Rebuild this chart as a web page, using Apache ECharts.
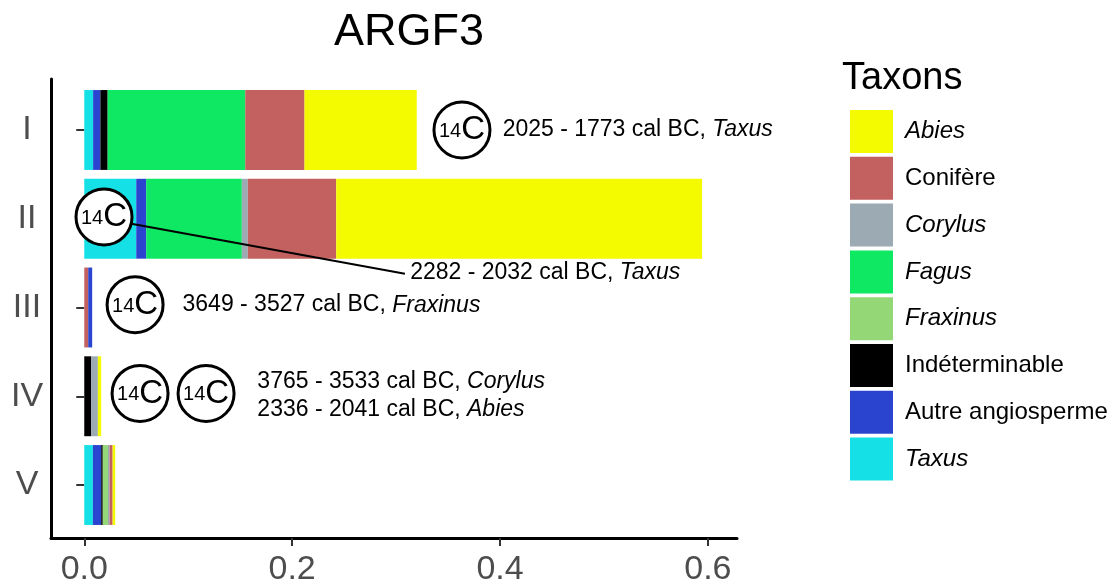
<!DOCTYPE html>
<html>
<head>
<meta charset="utf-8">
<script src="https://cdn.jsdelivr.net/npm/echarts@6/dist/echarts.min.js"></script>
<style>
html,body{margin:0;padding:0;background:#fff;}
#c{width:1115px;height:587px;}
</style>
</head>
<body>
<div id="c"></div>
<script>
// ---- data ----
const rows = ['I', 'II', 'III', 'IV', 'V'];
const taxons = ['Abies', 'Conifère', 'Corylus', 'Fagus', 'Fraxinus', 'Indéterminable', 'Autre angiosperme', 'Taxus'];
const italicTaxa = ['Abies', 'Corylus', 'Fagus', 'Fraxinus', 'Taxus'];
const colors = {
  'Abies': '#f4fb00',
  'Conifère': '#c2615f',
  'Corylus': '#9caab4',
  'Fagus': '#0fe862',
  'Fraxinus': '#93d777',
  'Indéterminable': '#000000',
  'Autre angiosperme': '#2b44cf',
  'Taxus': '#14e0e6'
};
// proportions per row (I..V)
const conifereLeadIII = [0, 0, 0.0038, 0, 0];
const taxus       = [0.0085, 0.050, 0, 0, 0.0083];
const autreAngio  = [0.007, 0.0096, 0.0038, 0, 0.008];
const indeterm    = [0.007, 0, 0, 0.0068, 0.0015];
const fraxinus    = [0, 0, 0, 0, 0.005];
const fagus       = [0.1324, 0.092, 0, 0, 0];
const corylus     = [0, 0.0058, 0, 0.0063, 0.0015];
const conifere    = [0.057, 0.085, 0, 0, 0.003];
const abies       = [0.108, 0.352, 0, 0.0032, 0.0025];
const xTicks = [0, 0.2, 0.4, 0.6];

// 14C annotations (x in proportion units, y in row-index units)
const c14Circles = [[0.3634, 0.0], [0.019, 0.98], [0.0489, 1.97], [0.0537, 2.97], [0.1172, 2.97]];
const annotPos   = [[0.403, 0.0], [0.314, 1.61], [0.095, 1.98], [0.167, 2.84], [0.167, 3.16]];
const annotDates = ['2025 - 1773 cal BC, ', '2282 - 2032 cal BC, ', '3649 - 3527 cal BC, ', '3765 - 3533 cal BC, ', '2336 - 2041 cal BC, '];
const annotTaxa  = ['Taxus', 'Taxus', 'Fraxinus', 'Corylus', 'Abies'];
const leaderLine = [[0.019, 1.0], [0.3085, 1.62]];

const FONT = '"Liberation Sans", Arial, sans-serif';
const XMIN = -0.032, XMAX = 0.628;

const stackOrder = [
  ['Conifère', conifereLeadIII],
  ['Taxus', taxus],
  ['Autre angiosperme', autreAngio],
  ['Indéterminable', indeterm],
  ['Fraxinus', fraxinus],
  ['Fagus', fagus],
  ['Corylus', corylus],
  ['Conifère', conifere],
  ['Abies', abies]
];

const barSeries = stackOrder.map(([name, vals]) => ({
  type: 'bar',
  name: name,
  stack: 'tot',
  xAxisIndex: 1,
  yAxisIndex: 1,
  barWidth: '90%',
  silent: true,
  itemStyle: { color: colors[name] },
  data: vals
}));

const chart = echarts.init(document.getElementById('c'), null, { renderer: 'canvas' });
chart.setOption({
  animation: false,
  backgroundColor: '#fff',
  textStyle: { fontFamily: FONT },
  title: [
    { text: 'ARGF3', left: 404, top: 5, textAlign: 'center',
      textStyle: { fontSize: 45, fontWeight: 'normal', color: '#000', fontFamily: FONT } },
    { text: 'Taxons', left: 837, top: 55,
      textStyle: { fontSize: 38, fontWeight: 'normal', color: '#000', fontFamily: FONT } }
  ],
  legend: {
    data: taxons,
    orient: 'vertical',
    left: 845,
    top: 105,
    itemWidth: 43,
    itemHeight: 43,
    itemGap: 3.8,
    icon: 'rect',
    selectedMode: false,
    formatter: n => italicTaxa.includes(n) ? '{i|' + n + '}' : '{n|' + n + '}',
    textStyle: {
      fontSize: 24, color: '#000', fontFamily: FONT,
      rich: {
        i: { fontSize: 24, fontStyle: 'italic', color: '#000', fontFamily: FONT, padding: [0, 0, 0, 7] },
        n: { fontSize: 24, color: '#000', fontFamily: FONT, padding: [0, 0, 0, 7] }
      }
    }
  },
  grid: [
    { left: 51, right: 378, top: 79, bottom: 49 },
    { left: 51, right: 378, top: 85.6, bottom: 587 - 529.4 }
  ],
  xAxis: [
    {
      type: 'value', gridIndex: 0, min: XMIN, max: XMAX,
      axisLine: { show: true, onZero: false, lineStyle: { color: '#000', width: 3 } },
      axisTick: { show: true, length: 8, customValues: xTicks, lineStyle: { color: '#333', width: 2 } },
      axisLabel: { show: true, customValues: xTicks, margin: 15, fontSize: 34, color: '#4d4d4d',
        fontFamily: FONT, formatter: v => v.toFixed(1) },
      splitLine: { show: false }
    },
    {
      type: 'value', gridIndex: 1, min: XMIN, max: XMAX, show: false,
      splitLine: { show: false }
    }
  ],
  yAxis: [
    {
      type: 'value', gridIndex: 0, min: -0.575, max: 4.6, inverse: true,
      axisLine: { show: true, onZero: false, lineStyle: { color: '#000', width: 3 } },
      axisTick: { show: false }, axisLabel: { show: false }, splitLine: { show: false }
    },
    {
      type: 'category', gridIndex: 1, data: rows, inverse: true,
      axisLine: { show: false },
      axisTick: { show: true, alignWithLabel: true, length: 8, lineStyle: { color: '#333', width: 2 } },
      axisLabel: { show: true, align: 'center', margin: 24, fontSize: 34, color: '#4d4d4d', fontFamily: FONT },
      splitLine: { show: false }
    }
  ],
  series: barSeries.concat([
    {
      type: 'line', name: 'leader', xAxisIndex: 0, yAxisIndex: 0,
      data: leaderLine, symbol: 'none', silent: true, z: 5,
      lineStyle: { color: '#000', width: 2 }
    },
    {
      type: 'scatter', name: 'c14', xAxisIndex: 0, yAxisIndex: 0,
      data: c14Circles, symbol: 'circle', symbolSize: 56, silent: true, z: 6,
      itemStyle: { color: '#fff', borderColor: '#000', borderWidth: 3, opacity: 1 },
      label: {
        show: true, position: 'inside', formatter: '{a|14}{b|C}',
        rich: {
          a: { fontSize: 20, color: '#000', fontFamily: FONT, verticalAlign: 'bottom', padding: [0, 0, 5, 0] },
          b: { fontSize: 33, color: '#000', fontFamily: FONT, verticalAlign: 'bottom' }
        }
      }
    },
    {
      type: 'scatter', name: 'annot', xAxisIndex: 0, yAxisIndex: 0,
      data: annotPos, symbol: 'rect', symbolSize: 1, silent: true, z: 6,
      itemStyle: { color: '#ffffff', opacity: 1 },
      label: {
        show: true, position: [0, 0], align: 'left', verticalAlign: 'middle', color: '#000', opacity: 1,
        formatter: p => '{n|' + annotDates[p.dataIndex] + '}{i|' + annotTaxa[p.dataIndex] + '}',
        rich: {
          n: { fontSize: 23, color: '#000', fontFamily: FONT },
          i: { fontSize: 23, color: '#000', fontFamily: FONT, fontStyle: 'italic' }
        }
      }
    }
  ])
});
</script>
</body>
</html>
